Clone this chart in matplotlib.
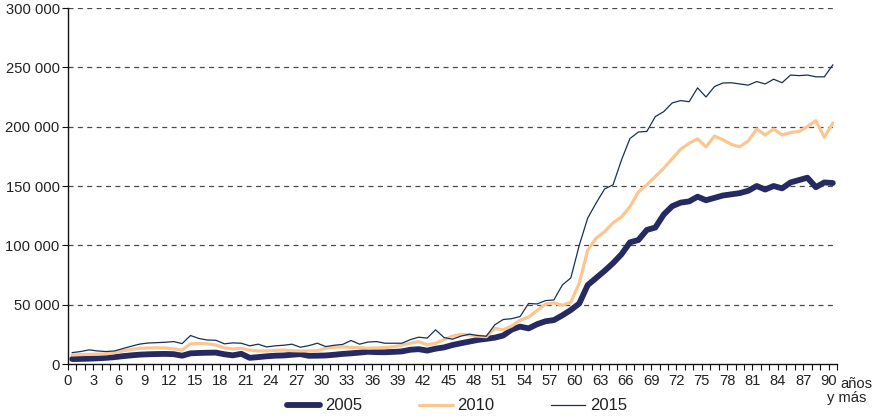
import matplotlib
matplotlib.use("Agg")
import matplotlib.pyplot as plt
from matplotlib.ticker import FuncFormatter

plt.rcParams['font.family'] = ['Liberation Sans', 'DejaVu Sans']

ages = list(range(0, 91))

v2005 = [4200, 4300, 4500, 4800, 5200, 5800, 6600, 7300, 7900, 8200,
         8400, 8500, 8300, 7000, 9000, 9300, 9500, 9600, 8200, 7300,
         8600, 5200, 5800, 6500, 7000, 7200, 7800, 8300, 6900, 7000,
         7200, 7800, 8500, 9000, 9600, 10300, 10000, 9900, 10200, 10600,
         12000, 12500, 11300, 12900, 14000, 16000, 17500, 18900, 20300, 21200,
         22200, 24000, 29000, 31500, 30000, 33500, 36000, 37000, 41000, 45500,
         51000, 66500, 72500, 78500, 85000, 92500, 102500, 104500, 113000, 115000,
         126000, 133000, 136000, 137000, 141000, 138000, 140000, 142000, 143000, 144000,
         146000, 150000, 147000, 150000, 148000, 153000, 155000, 157000, 149000, 153000,
         152500]

v2010 = [7600, 7900, 8200, 8300, 8500, 9500, 11000, 12400, 13200, 13500,
         13600, 13500, 12800, 11800, 17000, 17300, 17000, 16000, 13500, 12600,
         13200, 11800, 11000, 11000, 11500, 11800, 11200, 11000, 11000, 11200,
         13300, 14000, 14400, 14000, 13800, 13300, 13500, 13800, 14500, 16000,
         17500, 18900, 16100, 17500, 20500, 23500, 25000, 24500, 23500, 23000,
         30000, 28800, 32000, 37000, 39500, 45000, 50500, 51500, 49500, 52000,
         68000, 96000, 106000, 111500, 119000, 124000, 132500, 145000, 151000, 158000,
         165000, 173000, 181000, 186000, 189700, 183000, 192000, 189000, 185000, 183000,
         188000, 198000, 193000, 198000, 193000, 195000, 196000, 200000, 205000, 191000,
         203000]

v2015 = [9600, 10500, 11900, 11000, 10500, 11000, 13000, 15000, 16800, 17700,
         18000, 18300, 18900, 17200, 24000, 21500, 20200, 20000, 17000, 17800,
         17500, 15300, 16700, 14400, 15300, 15800, 16700, 14100, 15500, 17500,
         14700, 15800, 16500, 19800, 16700, 18500, 18900, 17500, 17500, 17500,
         20500, 22600, 21800, 28800, 22300, 20900, 23500, 25100, 24000, 23400,
         33000, 37500, 38200, 40000, 51000, 50600, 53400, 54000, 66600, 72500,
         100000, 123000, 135700, 147500, 151000, 172000, 190000, 195500, 196000, 208500,
         212700, 220000, 222000, 221000, 232700, 225000, 233800, 236800, 237000, 236000,
         235000, 238000, 236000, 240000, 237000, 243500, 243000, 243500, 242000, 242000,
         252000]

series_labels = ["2005", "2010", "2015"]
y_ticks = [0, 50000, 100000, 150000, 200000, 250000, 300000]

fig = plt.figure(figsize=(8.79, 4.20), dpi=100)
ax = fig.add_axes([68/879, 1-364/420, (837-68)/879, (364-8)/420])

ax.plot(ages, v2005, color="#262A62", lw=4.2, solid_joinstyle='round',
        solid_capstyle='round', label=series_labels[0], zorder=3)
ax.plot(ages, v2010, color="#FBC690", lw=2.3, solid_joinstyle='round',
        solid_capstyle='round', label=series_labels[1], zorder=4)
ax.plot(ages, v2015, color="#17315A", lw=0.9, solid_joinstyle='round',
        label=series_labels[2], zorder=5)

ax.set_xlim(-0.5, 90.5)
ax.set_ylim(0, 300000)
ax.set_yticks(y_ticks)
ax.yaxis.set_major_formatter(FuncFormatter(lambda v, p: f"{int(v):,}".replace(",", " ")))
for y in y_ticks[1:]:
    ax.axhline(y, color="#4a4a4a", lw=0.9, ls=(0, (4, 3.5)), zorder=1)

bounds = [k - 0.5 for k in range(0, 92)]
ax.set_xticks(bounds)
ax.set_xticklabels([str(k) if (k % 3 == 0 and k <= 90) else "" for k in range(0, 92)])

for s in ["top", "right"]:
    ax.spines[s].set_visible(False)
for s in ["left", "bottom"]:
    ax.spines[s].set_color("#111111")
    ax.spines[s].set_linewidth(1.0)

ax.tick_params(axis='y', direction='out', length=4, width=0.8, colors="#111111",
               labelsize=10.6, pad=2, labelcolor="#222222")
ax.tick_params(axis='x', direction='out', length=4, width=0.8, colors="#111111",
               labelsize=10.6, pad=3, labelcolor="#222222")

fig.text(840/879, 1-384/420, "años", fontsize=10.6, color="#222222", ha="left", va="center")
fig.text(827/879, 1-398/420, "y más", fontsize=10.6, color="#222222", ha="left", va="center")

fig.legend(loc="center", bbox_to_anchor=(457/879, 1-406/420), ncol=3, frameon=False,
           fontsize=12, handlelength=2.0, handletextpad=0.3, columnspacing=3.4,
           labelcolor="#222222")

fig.savefig("out.png", dpi=100)
